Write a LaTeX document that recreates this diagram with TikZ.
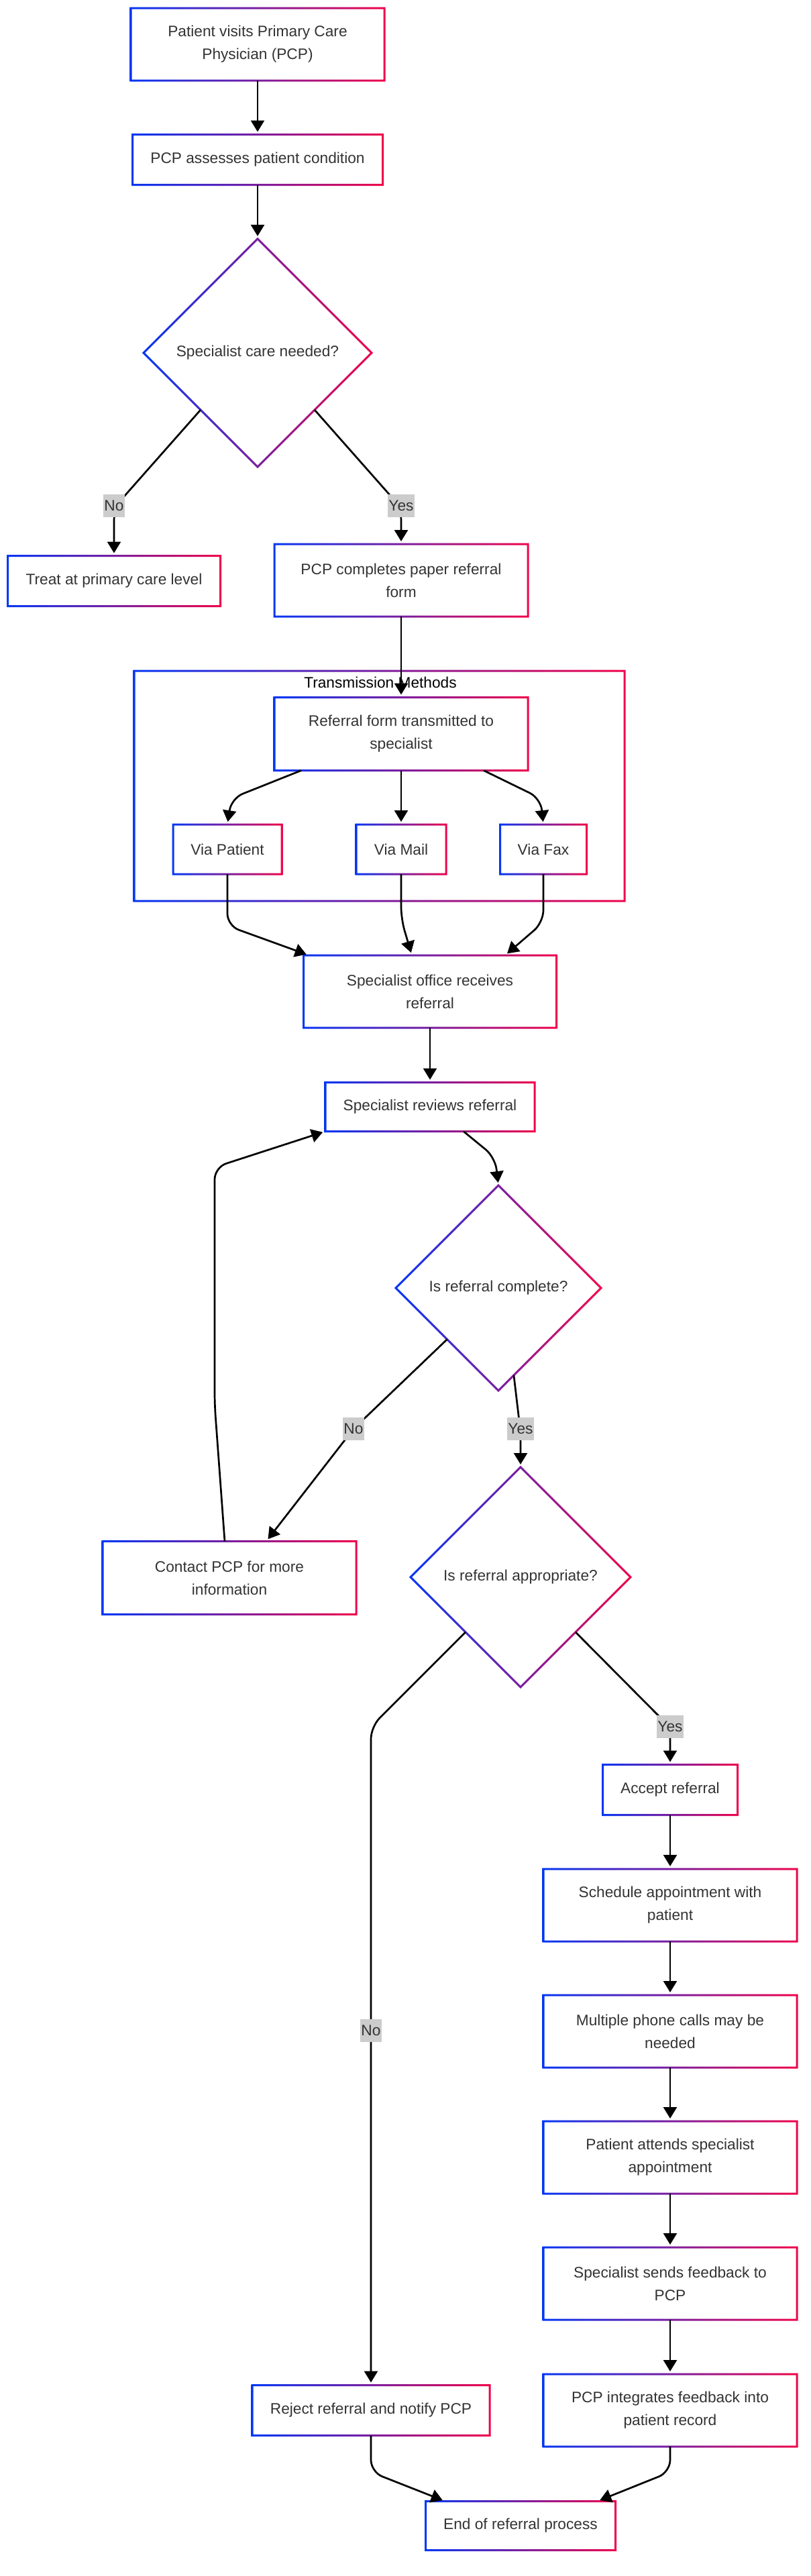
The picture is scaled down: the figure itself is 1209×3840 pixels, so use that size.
\documentclass[tikz,border=0pt]{standalone}
\usepackage{fontspec}
\setmainfont{Liberation Sans}
\usepackage{tikz}
\usetikzlibrary{arrows.meta,calc,positioning,shapes.geometric}
\definecolor{gblue}{RGB}{5,55,245}
\definecolor{gred}{RGB}{240,5,75}
\definecolor{txt}{HTML}{333333}
\definecolor{lblgray}{HTML}{CCCCCC}
\newcommand{\boxfont}{\fontsize{11.35}{17}\selectfont}
\newcommand{\gradframe}[1]{%
  \shade[left color=gblue, right color=gred, even odd rule]
    ($(#1.south west)+(-1.5,1.5)$) rectangle ($(#1.north east)+(1.5,-1.5)$)
    ($(#1.south west)+(1.5,-1.5)$) rectangle ($(#1.north east)+(-1.5,1.5)$);}
\newcommand{\graddiamond}[1]{%
  \shade[left color=gblue, right color=gred, even odd rule]
    ($(#1.west)+(-2.1,0)$) -- ($(#1.north)+(0,-2.1)$) -- ($(#1.east)+(2.1,0)$) -- ($(#1.south)+(0,2.1)$) -- cycle
    ($(#1.west)+(2.1,0)$) -- ($(#1.north)+(0,2.1)$) -- ($(#1.east)+(-2.1,0)$) -- ($(#1.south)+(0,-2.1)$) -- cycle;}
\tikzset{
  box/.style={rectangle, fill=white, text=txt, font=\boxfont, align=center, inner sep=0pt, outer sep=0pt},
  dia/.style={diamond, aspect=1, fill=white, text=txt, font=\boxfont, inner sep=0pt, outer sep=0pt},
  lbl/.style={fill=lblgray, text=txt, font=\boxfont, inner xsep=0.5pt, inner ysep=0pt, minimum height=17pt},
  arr/.style={black, line width=1.35pt, rounded corners=9pt, shorten >=2pt, -{Triangle[length=8.5pt,width=10pt]}}
}
\begin{document}
\begin{tikzpicture}[x=0.5pt,y=-0.5pt]
\useasboundingbox (0,0) rectangle (1209,3840);
\node[box, minimum width=365.5pt, minimum height=171.5pt] (cluster) at (565.5,1171.5) {};
\gradframe{cluster}
\node[font=\boxfont, text=black, inner sep=0pt] (tmtitle) at (567,1017) {Transmission Methods};

\node[box, minimum width=189pt, minimum height=54pt] (visit) at (384,66) {Patient visits Primary Care\\Physician (PCP)};
\node[box, minimum width=186.5pt, minimum height=37.5pt] (assess) at (384,238) {PCP assesses patient condition};
\node[dia, minimum size=170pt] (dspec) at (384,526) {Specialist care needed?};
\node[box, minimum width=158.5pt, minimum height=37.5pt] (treat) at (170,866) {Treat at primary care level};
\node[box, minimum width=189pt, minimum height=54pt] (paper) at (598,865) {PCP completes paper referral\\form};
\node[box, minimum width=189pt, minimum height=54.5pt] (transmit) at (598,1094) {Referral form transmitted to\\specialist};
\node[box, minimum width=81pt, minimum height=37pt] (viapat) at (339,1266) {Via Patient};
\node[box, minimum width=67pt, minimum height=37pt] (viamail) at (598,1266) {Via Mail};
\node[box, minimum width=64.5pt, minimum height=37pt] (viafax) at (810,1266) {Via Fax};
\node[box, minimum width=188.5pt, minimum height=54pt] (office) at (641,1478) {Specialist office receives\\referral};
\node[box, minimum width=156pt, minimum height=36.5pt] (review) at (641,1650) {Specialist reviews referral};
\node[dia, minimum size=153pt] (dcomplete) at (743,1920) {Is referral complete?};
\node[box, minimum width=189pt, minimum height=54.5pt] (contact) at (342,2352) {Contact PCP for more\\information};
\node[dia, minimum size=164pt] (dappr) at (776,2351) {Is referral appropriate?};
\node[box, minimum width=100.5pt, minimum height=37.5pt] (accept) at (999,2668) {Accept referral};
\node[box, minimum width=189pt, minimum height=54pt] (schedule) at (999,2840) {Schedule appointment with\\patient};
\node[box, minimum width=189pt, minimum height=54pt] (calls) at (999,3028) {Multiple phone calls may be\\needed};
\node[box, minimum width=189pt, minimum height=54pt] (attends) at (999,3216) {Patient attends specialist\\appointment};
\node[box, minimum width=189pt, minimum height=54pt] (feedback) at (999,3404) {Specialist sends feedback to\\PCP};
\node[box, minimum width=189pt, minimum height=54pt] (integrate) at (999,3593) {PCP integrates feedback into\\patient record};
\node[box, minimum width=177pt, minimum height=37.5pt] (reject) at (553,3593) {Reject referral and notify PCP};
\node[box, minimum width=141.5pt, minimum height=36.5pt] (endp) at (776,3765) {End of referral process};

\foreach \n in {visit,assess,treat,paper,transmit,viapat,viamail,viafax,office,review,contact,accept,schedule,calls,attends,feedback,integrate,reject,endp}
  {\gradframe{\n}}
\foreach \n in {dspec,dcomplete,dappr}
  {\graddiamond{\n}}

\draw[arr] (visit) -- (assess);
\draw[arr] (assess) -- (dspec);
\draw[arr] ($(dspec.south)!.5!(dspec.west)$) -- (170,757) -- (treat.north);
\draw[arr] ($(dspec.south)!.5!(dspec.east)$) -- (598,757) -- (paper.north);
\draw[arr] (paper) -- (transmit);
\draw[arr] ($(transmit.south)+(-149,0)$) -- (345,1190) -- (viapat.north);
\draw[arr] (transmit) -- (viamail);
\draw[arr] ($(transmit.south)+(123,0)$) -- (806,1190) -- (viafax.north);
\draw[arr] (viapat.south) -- (339,1380) -- ($(office.north west)+(8,0)$);
\draw[arr] (viamail.south) -- (598,1370) -- ($(office.north)+(-27,0)$);
\draw[arr] (viafax.south) -- (810,1375) -- ($(office.north)+(112,0)$);
\draw[arr] (office) -- (review);
\draw[arr] ($(review.south)+(50,0)$) -- (738,1725) -- (dcomplete.north);
\draw[arr] ($(dcomplete.south)!.5!(dcomplete.west)$) -- (527,2130) -- ($(contact.north)+(55,0)$);
\draw[arr] ($(dcomplete.south)!.15!(dcomplete.east)$) -- (776,2135) -- (dappr.north);
\draw[arr] ($(contact.north)+(-7,0)$) -- (320,2094) -- (320,1740) -- (review.south west);
\draw[arr] ($(dappr.south)!.5!(dappr.west)$) -- (553,2574) -- (reject.north);
\draw[arr] ($(dappr.south)!.5!(dappr.east)$) -- (999,2575) -- (accept.north);
\draw[arr] (accept) -- (schedule);
\draw[arr] (schedule) -- (calls);
\draw[arr] (calls) -- (attends);
\draw[arr] (attends) -- (feedback);
\draw[arr] (feedback) -- (integrate);
\draw[arr] (reject.south) -- (553,3685) -- ($(endp.north west)+(29,0)$);
\draw[arr] (integrate.south) -- (999,3685) -- ($(endp.north east)+(-27,0)$);

\node[lbl] (lno1) at (170,754) {No};
\node[lbl] (lyes1) at (598,754) {Yes};
\node[lbl] (lno2) at (527,2130) {No};
\node[lbl] (lyes2) at (776,2130) {Yes};
\node[lbl] (lyes3) at (999,2574) {Yes};
\node[lbl] (lno3) at (553,3027) {No};
\end{tikzpicture}
\end{document}
